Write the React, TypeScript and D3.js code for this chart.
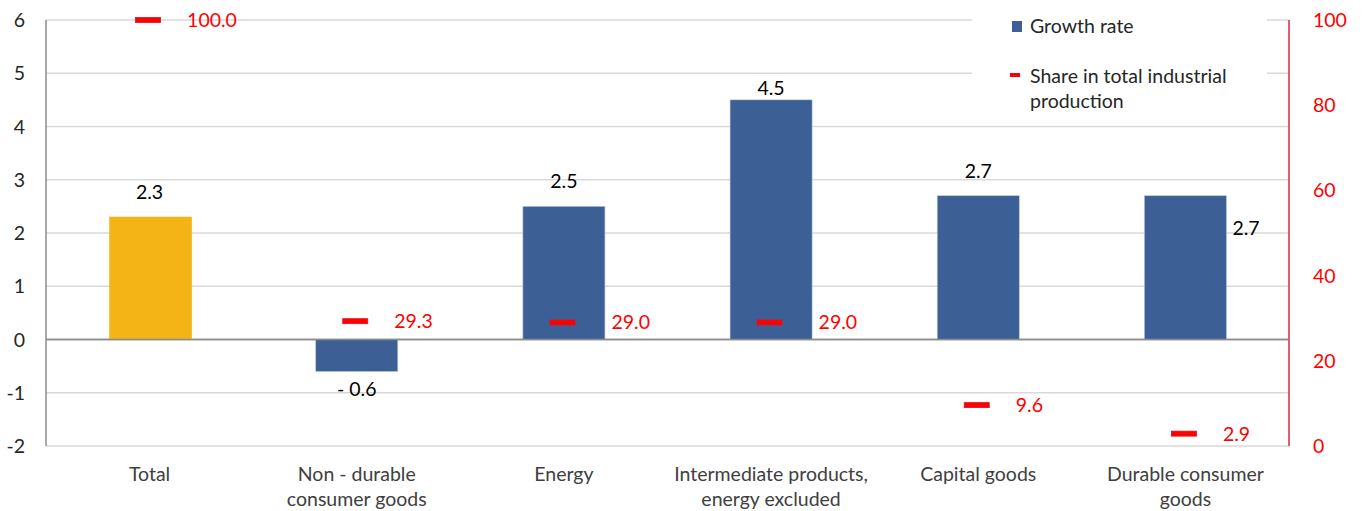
import React from "react";
import * as d3 from "d3";

const categories: string[][] = [
  ["Total"],
  ["Non - durable", "consumer goods"],
  ["Energy"],
  ["Intermediate products,", "energy excluded"],
  ["Capital goods"],
  ["Durable consumer", "goods"],
];
const growthRate: number[] = [2.3, -0.6, 2.5, 4.5, 2.7, 2.7];
const shareInTotal: number[] = [100.0, 29.3, 29.0, 29.0, 9.6, 2.9];
const leftTicks: number[] = [-2, -1, 0, 1, 2, 3, 4, 5, 6];
const rightTicks: number[] = [0, 20, 40, 60, 80, 100];
const legendLabels: string[] = ["Growth rate", "Share in total industrial", "production"];

const W = 1363;
const H = 511;
const FONT = "Lato, 'Open Sans', sans-serif";
const FS = 19.5;

export default function App() {
  const left = 46;
  const right = 1289;
  const top = 20;
  const bottom = 446;
  const keys = categories.map((c) => c.join(" "));
  const x = d3.scaleBand<string>().domain(keys).range([left, right]).padding(0);
  const yL = d3.scaleLinear().domain([-2, 6]).range([bottom, top]);
  const yR = d3.scaleLinear().domain([0, 100]).range([bottom, top]);
  const barW = x.bandwidth() * 0.396;
  const fmt = d3.format(".1f");

  return (
    <svg
      width={W}
      height={H}
      style={{ position: "absolute", left: 0, top: 0, display: "block", background: "#fff" }}
      fontFamily={FONT}
    >
      {/* gridlines */}
      {leftTicks.map((t) => (
        <line
          key={"g" + t}
          x1={left}
          x2={right}
          y1={yL(t)}
          y2={yL(t)}
          stroke={t === 0 ? "#8C8C8C" : "#D9D9D9"}
          strokeWidth={1.5}
        />
      ))}
      {/* legend background */}
      <rect x={972} y={0} width={295} height={115} fill="#fff" />
      {/* left axis */}
      <line x1={left} x2={left} y1={top} y2={bottom} stroke="#8C8C8C" strokeWidth={1.5} />
      {leftTicks.map((t) => (
        <text
          key={"lt" + t}
          x={25}
          y={yL(t)}
          dy="0.36em"
          textAnchor="end"
          fontSize={FS}
          fill="#262626"
        >
          {t}
        </text>
      ))}
      {/* right axis */}
      <line x1={right} x2={right} y1={top} y2={bottom} stroke="#E0243F" strokeWidth={1.5} />
      {rightTicks.map((t) => (
        <text
          key={"rt" + t}
          x={1313}
          y={yR(t)}
          dy="0.36em"
          textAnchor="start"
          fontSize={FS}
          fill="#FF0000"
        >
          {t}
        </text>
      ))}
      {/* bars */}
      {growthRate.map((v, i) => {
        const cx = (x(keys[i]) as number) + x.bandwidth() / 2 + (i === 0 ? 1 : 0);
        const y0 = yL(0);
        const y1 = yL(v);
        return (
          <rect
            key={"b" + i}
            x={cx - barW / 2}
            y={Math.min(y0, y1)}
            width={barW}
            height={Math.abs(y1 - y0)}
            fill={i === 0 ? "#F4B415" : "#3C5F96"}
            stroke={i === 0 ? "#F4B415" : "#B4C4DE"}
            strokeWidth={0.6}
          />
        );
      })}
      {/* zero line on top */}
      <line x1={left} x2={right} y1={yL(0)} y2={yL(0)} stroke="#8C8C8C" strokeWidth={1.5} />
      {/* growth labels */}
      {growthRate.map((v, i) => {
        const cx = (x(keys[i]) as number) + x.bandwidth() / 2;
        let lx = cx;
        let ly: number;
        let anchor: "middle" | "start" = "middle";
        if (i === 5) {
          lx = cx + barW / 2 + 6;
          ly = yL(2) + 2;
          anchor = "start";
        } else if (v < 0) {
          ly = yL(v) + 25;
        } else if (i === 3) {
          ly = yL(v) - 5;
        } else {
          ly = yL(v) - 18;
        }
        const label = v < 0 ? "- " + fmt(-v) : fmt(v);
        return (
          <text key={"gl" + i} x={lx} y={ly} textAnchor={anchor} fontSize={FS} fill="#000">
            {label}
          </text>
        );
      })}
      {/* share markers */}
      {shareInTotal.map((v, i) => {
        const cx = (x(keys[i]) as number) + x.bandwidth() / 2 - 1.5;
        const y = yR(v);
        const dx = i === 2 || i === 3 ? 49 : 39;
        return (
          <g key={"s" + i}>
            <rect x={cx - 12.5} y={y - 2.5} width={25} height={5} fill="#FF0000" stroke="#E4101E" strokeWidth={0.8} />
            <text x={cx + dx} y={y} dy="0.36em" textAnchor="start" fontSize={FS} fill="#FF0000">
              {fmt(v)}
            </text>
          </g>
        );
      })}
      {/* category labels */}
      {categories.map((lines, i) => {
        const cx = (x(keys[i]) as number) + x.bandwidth() / 2;
        return (
          <text key={"c" + i} x={cx} y={481} textAnchor="middle" fontSize={FS} fill="#404040">
            {lines.map((l, j) => (
              <tspan key={j} x={cx} dy={j === 0 ? 0 : 24.5}>
                {l}
              </tspan>
            ))}
          </text>
        );
      })}
      {/* legend */}
      <rect x={1012} y={21} width={10} height={11} fill="#3C5F96" />
      <text x={1030} y={33} fontSize={FS} fill="#262626">
        {legendLabels[0]}
      </text>
      <rect x={1010} y={73} width={10} height={4} fill="#FF0000" />
      <text x={1030} y={83} fontSize={FS} fill="#262626">
        {legendLabels[1]}
      </text>
      <text x={1030} y={108} fontSize={FS} fill="#262626">
        {legendLabels[2]}
      </text>
    </svg>
  );
}
